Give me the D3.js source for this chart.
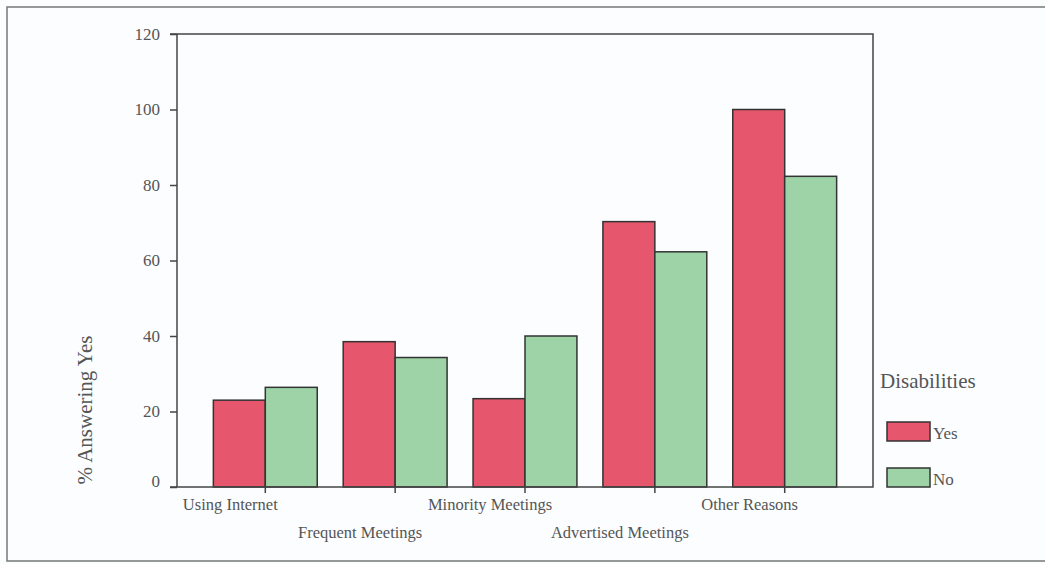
<!DOCTYPE html>
<html>
<head>
<meta charset="utf-8">
<script src="https://cdn.jsdelivr.net/npm/d3@7"></script>
<style>
  html, body { margin: 0; padding: 0; background: #fbfdff; }
  svg { display: block; }
  text { font-family: "Liberation Serif", "Times New Roman", serif; fill: #555; }
</style>
</head>
<body>
<svg id="chart" width="1045" height="564"></svg>
<script>
const categories = ["Using Internet", "Frequent Meetings", "Minority Meetings", "Advertised Meetings", "Other Reasons"];
const seriesNames = ["Yes", "No"];
const yesValues = [23, 38.5, 23.4, 70.3, 100];
const noValues = [26.4, 34.3, 40, 62.3, 82.3];
const yTicks = [0, 20, 40, 60, 80, 100, 120];
const legendTitle = "Disabilities";
const yTitle = "% Answering Yes";

const colors = { "Yes": "#e6566c", "No": "#9dd3a6" };
const svg = d3.select("#chart");

const plotLeft = 177, plotRight = 873, plotTop = 34, plotBottom = 487;

// outer frame
svg.append("path").attr("d", "M1045,7 H7 V561 H1045")
  .attr("fill", "none").attr("stroke", "#777").attr("stroke-width", 1.5);

const y = d3.scaleLinear().domain([0, 120]).range([plotBottom, plotTop]);
const x0 = d3.scaleBand().domain(categories).range([plotLeft, plotRight]).paddingInner(0.2).paddingOuter(0.28);
const x1 = d3.scaleBand().domain(seriesNames).range([0, x0.bandwidth()]);

const data = categories.map((c, i) => ({ cat: c, values: [
  { key: "Yes", value: yesValues[i] }, { key: "No", value: noValues[i] }] }));

// bars
const groups = svg.append("g").selectAll("g").data(data).join("g")
  .attr("transform", d => `translate(${x0(d.cat)},0)`);
groups.selectAll("rect").data(d => d.values).join("rect")
  .attr("x", d => x1(d.key))
  .attr("y", d => y(d.value))
  .attr("width", x1.bandwidth())
  .attr("height", d => y(0) - y(d.value))
  .attr("fill", d => colors[d.key])
  .attr("stroke", "#333").attr("stroke-width", 1.5);

// y axis
const yAxis = d3.axisLeft(y).tickValues(yTicks).tickSize(7).tickPadding(10);
const gy = svg.append("g").attr("transform", `translate(${plotLeft},0)`).call(yAxis);
gy.select(".domain").remove();
gy.selectAll(".tick line").attr("stroke", "#444").attr("stroke-width", 1.5);
gy.selectAll(".tick text").style("font-size", "17px").style("font-family", "Liberation Serif").attr("fill", "#555")
  .attr("y", d => d === 0 ? -6 : 0);

// frame lines of plot
const frame = svg.append("g").attr("stroke", "#444").attr("stroke-width", 1.5).attr("fill", "none");
frame.append("path").attr("d", `M${plotLeft},${plotTop} V${plotBottom}`);
frame.append("path").attr("d", `M${plotLeft - 7},${plotTop} H${plotRight} V${plotBottom} H${plotLeft - 7}`);

// x axis ticks at group centers
const xAxis = d3.axisBottom(x0).tickSize(6).tickFormat("");
const gx = svg.append("g").attr("transform", `translate(0,${plotBottom})`).call(xAxis);
gx.select(".domain").remove();
gx.selectAll(".tick line").attr("stroke", "#444").attr("stroke-width", 1.5);

// staggered category labels
svg.append("g").selectAll("text").data(categories).join("text")
  .attr("x", d => x0(d) + x0.bandwidth() / 2 - 35)
  .attr("y", (d, i) => i % 2 === 0 ? 510 : 538)
  .attr("text-anchor", "middle")
  .style("font-size", "16.5px")
  .text(d => d);

// y title
svg.append("text")
  .attr("transform", "translate(92,410) rotate(-90)")
  .attr("text-anchor", "middle")
  .style("font-size", "21px")
  .text(yTitle);

// legend
svg.append("text").attr("x", 880).attr("y", 388).style("font-size", "21px").text(legendTitle);
const leg = svg.append("g").selectAll("g").data(seriesNames).join("g")
  .attr("transform", (d, i) => `translate(887,${422 + i * 46})`);
leg.append("rect").attr("width", 43).attr("height", 19)
  .attr("fill", d => colors[d]).attr("stroke", "#333").attr("stroke-width", 1.5);
leg.append("text").attr("x", 46).attr("y", 17).style("font-size", "17px").text(d => d);
</script>
</body>
</html>
